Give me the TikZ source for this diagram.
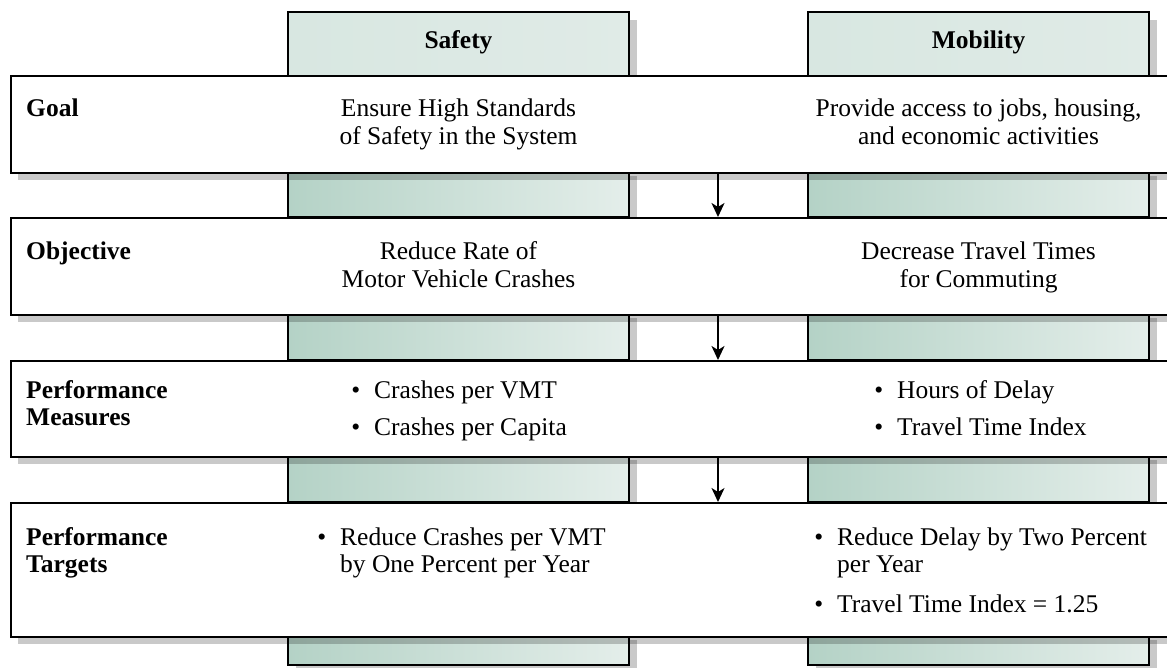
\documentclass[tikz,border=0pt]{standalone}
\usepackage{fontspec}
\setmainfont{Liberation Serif}
\usetikzlibrary{arrows.meta}

\definecolor{colL}{RGB}{180,210,198}
\definecolor{colR}{RGB}{228,238,234}
\definecolor{hdrL}{RGB}{216,231,225}
\definecolor{hdrR}{RGB}{224,235,231}

% bullet hung to the left of an item's first line
\newcommand{\bul}{\llap{\textbullet\hspace{14pt}}}

\begin{document}
\begin{tikzpicture}[x=1pt,y=-1pt,
  rowbox/.style={draw=black, line width=1.8pt, fill=white, inner sep=0pt, anchor=north west},
  colseg/.style={draw=black, line width=1.8pt, left color=colL, right color=colR},
  hdrseg/.style={draw=black, line width=1.8pt, left color=hdrL, right color=hdrR},
  shadowfill/.style={fill=black, fill opacity=0.21},
  flowarrow/.style={-{Stealth[length=14pt,width=13pt,inset=4pt]}, line width=1.8pt},
  txt/.style={font=\fontsize{25.5}{27.5}\selectfont, inner sep=0pt},
  lbl/.style={font=\fontsize{25.5}{27.5}\selectfont\bfseries, inner sep=0pt, anchor=base west},
  hdr/.style={font=\fontsize{25.5}{27.5}\selectfont\bfseries, inner sep=0pt, anchor=base}]
\useasboundingbox (0,0) rectangle (1167,668);
\clip (0,0) rectangle (1167,668);

% column pieces (header and the gaps between rows), with drop shadows
\foreach \xl/\xr in {288/629, 808/1149} {
  \fill[shadowfill] (\xl+8,20) rectangle (\xr+8,83);
  \draw[hdrseg] (\xl,12) rectangle (\xr,80);
  \foreach \yt/\yb in {168/217, 310/360, 452/502, 632/665} {
    \fill[shadowfill] (\xl+8,\yt+8) rectangle (\xr+8,\yb+8);
    \draw[colseg] (\xl,\yt) rectangle (\xr,\yb);
  }
}

% row shadows
\foreach \yt/\yb in {75/172, 217/314, 360/456, 502/636}
  \fill[shadowfill] (18,\yt+8) rectangle (1190,\yb+8);

% rows
\node[rowbox, minimum width=1170pt, minimum height=97pt]  (goal) at (10,75) {};
\node[rowbox, minimum width=1170pt, minimum height=97pt]  (obj)  at (10,217) {};
\node[rowbox, minimum width=1170pt, minimum height=96pt]  (pm)   at (10,360) {};
\node[rowbox, minimum width=1170pt, minimum height=134pt] (pt)   at (10,502) {};

% column headings
\node[hdr] (hsafety) at (458.5,49) {Safety};
\node[hdr] (hmob)    at (978.5,49) {Mobility};

% row headings
\node[lbl] (lgoal) at (26,117) {Goal};
\node[lbl] (lobj)  at (26,260) {Objective};
\node[lbl] (lpm)   at (26,398) {\begin{tabular}[t]{@{}l@{}}Performance\\Measures\end{tabular}};
\node[lbl] (lpt)   at (26,545) {\begin{tabular}[t]{@{}l@{}}Performance\\Targets\end{tabular}};

% goal
\node[txt, anchor=base] (gs) at (458.5,117) {\begin{tabular}[t]{@{}c@{}}Ensure High Standards\\of Safety in the System\end{tabular}};
\node[txt, anchor=base] (gm) at (978.5,117) {\begin{tabular}[t]{@{}c@{}}Provide access to jobs, housing,\\and economic activities\end{tabular}};

% objective
\node[txt, anchor=base] (os) at (458.5,260) {\begin{tabular}[t]{@{}c@{}}Reduce Rate of\\Motor Vehicle Crashes\end{tabular}};
\node[txt, anchor=base] (om) at (978.5,260) {\begin{tabular}[t]{@{}c@{}}Decrease Travel Times\\for Commuting\end{tabular}};

% performance measures
\node[txt, anchor=base west] (ms) at (374,398) {\begin{tabular}[t]{@{}l@{}}\bul Crashes per VMT\\[9.5pt]\bul Crashes per Capita\end{tabular}};
\node[txt, anchor=base west] (mm) at (897,398) {\begin{tabular}[t]{@{}l@{}}\bul Hours of Delay\\[9.5pt]\bul Travel Time Index\end{tabular}};

% performance targets
\node[txt, anchor=base west] (ts) at (340,545) {\begin{tabular}[t]{@{}l@{}}\bul Reduce Crashes per VMT\\by One Percent per Year\end{tabular}};
\node[txt, anchor=base west] (tm) at (837,545) {\begin{tabular}[t]{@{}l@{}}\bul Reduce Delay by Two Percent\\per Year\\[12pt]\bul Travel Time Index = 1.25\end{tabular}};

% flow from each row to the next
\coordinate (ax) at (718,0);
\draw[flowarrow] (goal.south -| ax) -- (obj.north -| ax);
\draw[flowarrow] (obj.south -| ax) -- (pm.north -| ax);
\draw[flowarrow] (pm.south -| ax) -- (pt.north -| ax);
\end{tikzpicture}
\end{document}
